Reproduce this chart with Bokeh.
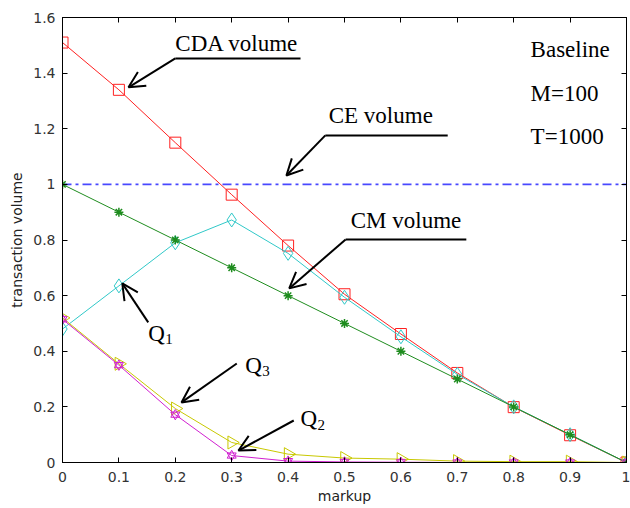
import math
from bokeh.plotting import figure
from bokeh.models import (Range1d, LinearAxis, FixedTicker, Arrow, OpenHead)
from bokeh.embed import file_html
from bokeh.resources import INLINE
from bokeh.core.properties import value

# ---------------- data ----------------
markup = [0.0, 0.1, 0.2, 0.3, 0.4, 0.5, 0.6, 0.7, 0.8, 0.9, 1.0]
cda_volume = [1.51, 1.34, 1.15, 0.963, 0.78, 0.605, 0.462, 0.322, 0.199, 0.098, 0.0]
ce_volume = [1.0] * 11
cm_volume = [1.0, 0.9, 0.8, 0.7, 0.6, 0.5, 0.4, 0.3, 0.2, 0.1, 0.0]
q1_volume = [0.48, 0.635, 0.79, 0.872, 0.752, 0.594, 0.452, 0.317, 0.2, 0.1, 0.0]
q3_volume = [0.52, 0.355, 0.194, 0.072, 0.03, 0.016, 0.012, 0.005, 0.003, 0.003, 0.0]
q2_volume = [0.515, 0.35, 0.172, 0.025, 0.005, 0.002, 0.001, 0.0, 0.0, 0.0, 0.0]

x_ticks = [0.0, 0.1, 0.2, 0.3, 0.4, 0.5, 0.6, 0.7, 0.8, 0.9, 1.0]
x_tick_labels = ["0", "0.1", "0.2", "0.3", "0.4", "0.5", "0.6", "0.7", "0.8", "0.9", "1"]
y_ticks = [0.0, 0.2, 0.4, 0.6, 0.8, 1.0, 1.2, 1.4, 1.6]
y_tick_labels = ["0", "0.2", "0.4", "0.6", "0.8", "1", "1.2", "1.4", "1.6"]

# annotation labels: (text, x, y)
labels = [("CDA volume", 0.200, 1.505), ("CE volume", 0.472, 1.248),
          ("CM volume", 0.511, 0.870)]
info_labels = [("Baseline", 0.830, 1.486), ("M=100", 0.830, 1.327), ("T=1000", 0.830, 1.173)]
q_labels = [("Q", "1", 0.152, 0.464), ("Q", "3", 0.324, 0.349), ("Q", "2", 0.422, 0.158)]
# underlines (x0, x1, y) and arrows (x_start, y_start, x_end, y_end)
underlines = [(0.200, 0.422, 1.453), (0.466, 0.683, 1.176), (0.502, 0.716, 0.802)]
arrows = [(0.200, 1.453, 0.117, 1.349), (0.466, 1.176, 0.397, 1.032),
          (0.502, 0.802, 0.402, 0.626), (0.152, 0.504, 0.106, 0.644),
          (0.309, 0.356, 0.211, 0.216), (0.410, 0.151, 0.312, 0.043)]

# ---------------- figure ----------------
p = figure(width=630, height=508, output_backend="svg", toolbar_location=None,
           x_range=Range1d(0, 1), y_range=Range1d(0, 1.6),
           min_border_left=62, min_border_right=4, min_border_top=17,
           min_border_bottom=46)
p.grid.visible = False
p.outline_line_color = "black"
p.outline_line_width = 1
p.background_fill_color = "white"
p.border_fill_color = "white"

def style_axis(ax, show_labels=True):
    ax.major_tick_in = 5
    ax.major_tick_out = 0
    ax.minor_tick_in = 0
    ax.minor_tick_out = 0
    ax.axis_line_color = "black"
    ax.major_tick_line_color = "black"
    ax.major_label_text_font = "DejaVu Sans"
    ax.major_label_text_font_size = "14px" if show_labels else "0px"
    ax.major_label_text_color = "#333333"
    ax.major_label_standoff = 7 if show_labels else 0
    ax.axis_label_text_font = "DejaVu Sans"
    ax.axis_label_text_font_size = "14px"
    ax.axis_label_text_font_style = "normal"
    ax.axis_label_text_color = "#222222"

xax = p.xaxis[0]
yax = p.yaxis[0]
xax.ticker = FixedTicker(ticks=x_ticks)
yax.ticker = FixedTicker(ticks=y_ticks)
xax.major_label_overrides = {t: l for t, l in zip(x_ticks, x_tick_labels)}
yax.major_label_overrides = {t: l for t, l in zip(y_ticks, y_tick_labels)}
style_axis(xax)
style_axis(yax)
xax.major_label_standoff = 9
xax.axis_label = "markup"
yax.axis_label = "transaction volume"
xax.axis_label_standoff = 3
yax.axis_label_standoff = 5

top_ax = LinearAxis(ticker=FixedTicker(ticks=x_ticks))
right_ax = LinearAxis(ticker=FixedTicker(ticks=y_ticks))
style_axis(top_ax, False)
style_axis(right_ax, False)
top_ax.major_label_overrides = {t: "" for t in x_ticks}
right_ax.major_label_overrides = {t: "" for t in y_ticks}
p.add_layout(top_ax, "above")
p.add_layout(right_ax, "right")

RED = "#ff2020"
CYAN = "#30c8c8"
GREEN = "#1e8c1e"
YELLOW = "#c8c800"
MAGENTA = "#d020d0"
BLUE = "#4848ff"

# CE volume
p.line(markup, ce_volume, line_color=BLUE, line_width=1.6, line_dash="9 4 3 4")

# CDA
p.line(markup, cda_volume, line_color=RED, line_width=1)
p.scatter(markup, cda_volume, marker="square", size=11, fill_color=None,
          line_color=RED, line_width=1)
# Q1
p.line(markup, q1_volume, line_color=CYAN, line_width=1)
p.scatter(markup, q1_volume, marker="diamond", size=14, fill_color=None,
          line_color=CYAN, line_width=1)
# CM
p.line(markup, cm_volume, line_color=GREEN, line_width=1)
p.scatter(markup, cm_volume, marker="asterisk", size=9, line_color=GREEN, line_width=1.5)
# Q3
p.line(markup, q3_volume, line_color=YELLOW, line_width=1)
p.scatter(markup, q3_volume, marker="triangle", size=13, angle=-math.pi / 2,
          fill_color=None, line_color=YELLOW, line_width=1)
# Q2 (hexagram from two triangles)
p.line(markup, q2_volume, line_color=MAGENTA, line_width=1)
p.scatter(markup, q2_volume, marker="triangle", size=9, fill_color=None,
          line_color=MAGENTA, line_width=1)
p.scatter(markup, q2_volume, marker="inverted_triangle", size=9, fill_color=None,
          line_color=MAGENTA, line_width=1)

# ---------------- annotations ----------------
SERIF = value("Liberation Serif")
p.text([l[1] for l in labels], [l[2] for l in labels], text=[l[0] for l in labels],
       text_font=SERIF, text_font_size="23px", text_color="black",
       text_baseline="middle", text_align="left")
p.text([l[1] for l in info_labels], [l[2] for l in info_labels],
       text=[l[0] for l in info_labels], text_font=SERIF, text_font_size="23px",
       text_color="black", text_baseline="middle", text_align="left")
p.text([q[2] for q in q_labels], [q[3] for q in q_labels], text=[q[0] for q in q_labels],
       text_font=SERIF, text_font_size="23px", text_color="black",
       text_baseline="middle", text_align="left")
p.text([q[2] for q in q_labels], [q[3] for q in q_labels], text=[q[1] for q in q_labels],
       x_offset=17, y_offset=6, text_font=SERIF, text_font_size="15px",
       text_color="black", text_baseline="middle", text_align="left")

for x0, x1, y in underlines:
    p.line([x0, x1], [y, y], line_color="black", line_width=2)
for xs, ys, xe, ye in arrows:
    p.add_layout(Arrow(x_start=xs, y_start=ys, x_end=xe, y_end=ye, line_width=2,
                       line_color="black",
                       end=OpenHead(size=16, line_width=2, line_color="black")))

open("out.html", "w").write(file_html(p, INLINE))
